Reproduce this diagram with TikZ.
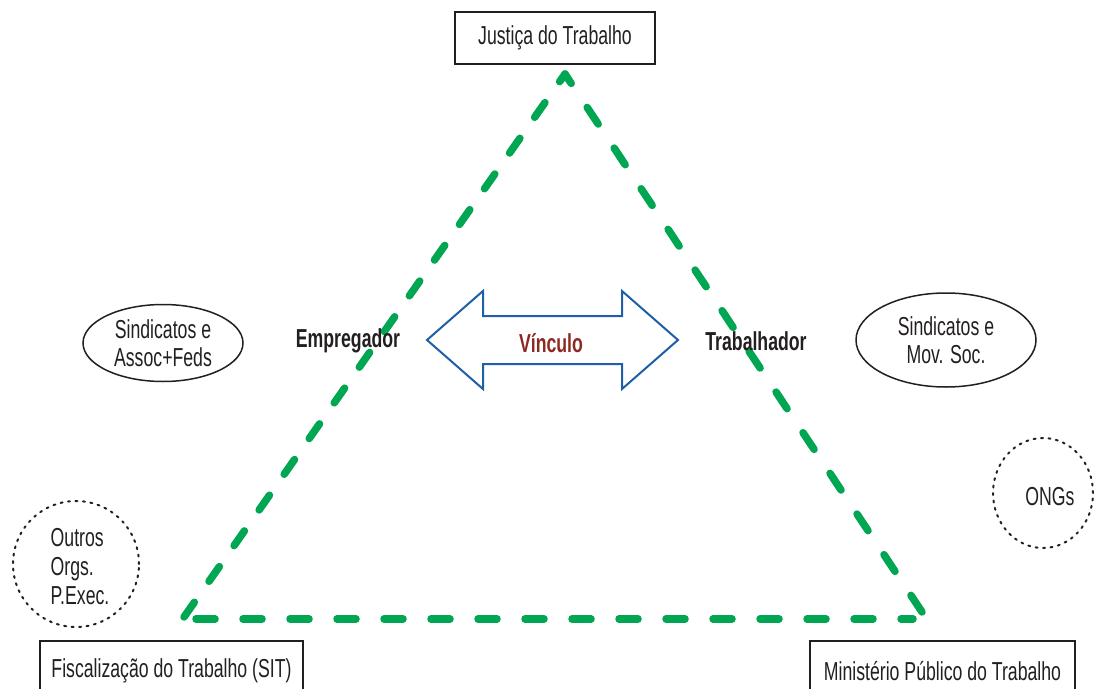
\documentclass[tikz,border=0pt]{standalone}
\usepackage{fontspec}
\setmainfont[FakeStretch=0.68]{Liberation Sans}
\usetikzlibrary{shapes.geometric}
\definecolor{dgreen}{HTML}{00A651}
\definecolor{vblue}{HTML}{1F5FA8}
\definecolor{vred}{HTML}{8B2A22}
\definecolor{ink}{HTML}{231F20}
\tikzset{
  txt/.style={font=\fontsize{26}{28}\selectfont, text=ink, inner sep=0pt, align=center},
  boldtxt/.style={txt, font=\fontsize{26}{28}\selectfont\bfseries},
  boxnode/.style={txt, draw=ink, line width=1.8pt},
  ellnode/.style={txt, draw=ink, line width=1.5pt, ellipse},
  dotnode/.style={txt, draw=ink, line width=2pt, dash pattern=on 2pt off 5.5pt, line cap=round, circle},
  dashline/.style={draw=dgreen, line width=7.5pt, line cap=round, dash pattern=on 19pt off 28pt},
  arrowshape/.style={draw=vblue, line width=2pt, line join=miter}
}
\begin{document}
\begin{tikzpicture}[x=1pt,y=-1pt]
\useasboundingbox (0,0) rectangle (1094,688);
\clip (0,0) rectangle (1094,688);
% boxes
\node[boxnode, minimum width=200pt, minimum height=52pt] (jt) at (555,38) {Justiça do Trabalho};
\node[boxnode, minimum width=263pt, minimum height=60pt, anchor=north] (sit) at (171.5,640) {Fiscalização do Trabalho (SIT)};
\node[boxnode, minimum width=265pt, minimum height=60pt, anchor=north] (mpt) at (942.5,640) {Ministério Público do Trabalho};
% triangle
\coordinate (A) at (565,74);
\coordinate (B) at (184,617);
\coordinate (B2) at (196,619);
\coordinate (C) at (913,619);
\coordinate (C2) at (922,612);
\draw[dashline, dash pattern=on 18pt off 25.6pt] (B) -- (A);
\draw[dashline] (B2) -- (C);
\draw[dashline, dash pattern=on 20pt off 28.8pt] (C2) -- (A);
% labels
\node[boldtxt] (emp) at (348,341) {Empregador};
\node[boldtxt] (trab) at (756,341) {Trabalhador};
% double arrow
\draw[arrowshape] (427,340) -- (483,291) -- (483,316) -- (622,316) -- (622,291) -- (678,340)
  -- (622,389) -- (622,364) -- (483,364) -- (483,389) -- cycle;
\node[boldtxt, text=vred] (vin) at (551,343) {Vínculo};
% ellipses
\node[ellnode, minimum width=160pt, minimum height=77pt] (sl) at (163,343) {Sindicatos e\\Assoc+Feds};
\node[ellnode, minimum width=180pt, minimum height=94pt] (sr) at (946,340) {Sindicatos e\\Mov. Soc.};
% dotted circles
\node[dotnode, minimum size=126pt] (out) at (76,564) {};
\node[txt, align=left, font=\fontsize{26}{29}\selectfont] (outt) at (80,567) {Outros\\Orgs.\\P.Exec.};
\node[dotnode, ellipse, minimum width=100pt, minimum height=110pt] (ong) at (1043,493) {};
\node[txt] (ongt) at (1050,497) {ONGs};
\end{tikzpicture}
\end{document}
